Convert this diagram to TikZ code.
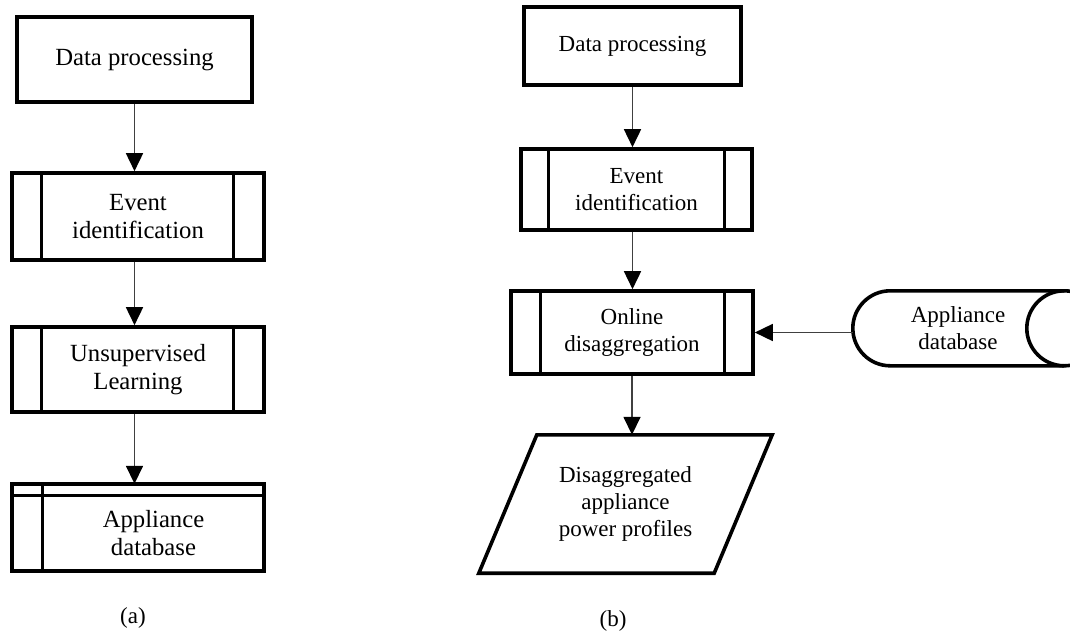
\documentclass[tikz,border=0pt]{standalone}
\usepackage{fontspec}
\setmainfont{Liberation Serif}
\usetikzlibrary{arrows.meta,positioning}

\begin{document}
\begin{tikzpicture}
[
	              x = 1pt,
	              y = -1pt,
	     arr/.style = { draw=black!75, line width=1.6pt, -{Triangle[width=17pt,length=18pt,color=black]} },
	     box/.style = { draw=black, line width=3.6pt },
	     blk/.style = { box, rectangle, align=center, inner sep=0pt },
	   inner/.style = { draw=black, line width=2.8pt },
	    bigA/.style = { font=\fontsize{24.7}{28}\selectfont },
	    bigB/.style = { font=\fontsize{23}{27}\selectfont },
	 caption/.style = { font=\fontsize{23}{27}\selectfont }
]
	\useasboundingbox (0,0) rectangle (1070,632);
	\clip (0,0) rectangle (1070,632);

	\node (dpA) at (134.5,59.5)  [blk, bigA, minimum width=235pt, minimum height=85pt] {Data processing};
	\node (evA) at (138,216.5)   [blk, bigA, minimum width=252pt, minimum height=87pt] {Event\\identification};
	\draw [inner] ([xshift=31pt]evA.north west) -- ([xshift=31pt]evA.south west);
	\draw [inner] ([xshift=-32pt]evA.north east) -- ([xshift=-32pt]evA.south east);

	\node (ulA) at (138,369.5)   [blk, bigA, minimum width=252pt, minimum height=85pt] {Unsupervised\\Learning};
	\draw [inner] ([xshift=31pt]ulA.north west) -- ([xshift=31pt]ulA.south west);
	\draw [inner] ([xshift=-32pt]ulA.north east) -- ([xshift=-32pt]ulA.south east);

	\node (dbA) at (153.5,533.5) [bigA, align=center, inner sep=0pt, minimum width=221pt, minimum height=75pt] {Appliance\\database};
	\coordinate (dbAtop) at ([yshift=12pt]dbA.north);
	\draw [box] ([shift={(-31,-12)}]dbA.north west) rectangle (dbA.south east);
	\draw [inner] ([yshift=12pt]dbA.north west) -- (dbA.south west);
	\draw [inner] ([xshift=-31pt]dbA.north west) -- (dbA.north east);

	\draw [arr] (dpA.south) -- (dpA.south |- evA.north);
	\draw [arr] (evA.south -| dpA.south) -- (dpA.south |- ulA.north);
	\draw [arr] (ulA.south -| dpA.south) -- (dpA.south |- dbAtop);

	\node (capA) at (133,618)    [caption] {(a)};

	\node (dpB) at (632.5,46)    [blk, bigB, minimum width=217pt, minimum height=78pt] {Data processing};
	\node (evB) at (636.5,189.5) [blk, bigB, minimum width=231pt, minimum height=81pt] {Event\\identification};
	\draw [inner] ([xshift=29pt]evB.north west) -- ([xshift=29pt]evB.south west);
	\draw [inner] ([xshift=-29pt]evB.north east) -- ([xshift=-29pt]evB.south east);

	\node (olB) at (632,332.5)   [blk, bigB, minimum width=242pt, minimum height=83pt] {Online\\disaggregation};
	\draw [inner] ([xshift=31pt]olB.north west) -- ([xshift=31pt]olB.south west);
	\draw [inner] ([xshift=-30pt]olB.north east) -- ([xshift=-30pt]olB.south east);

	\node (outB) at (625.5,504)  [bigB, align=center, inner sep=0pt, minimum width=177pt, minimum height=138pt] {Disaggregated\\appliance\\power profiles};
	\draw [box] (outB.north west) -- ([xshift=58pt]outB.north east) -- (outB.south east) -- ([xshift=-58pt]outB.south west) -- cycle;

	\node (dbB) at (958,328.5)   [bigB, align=center, inner sep=0pt, minimum width=210pt, minimum height=75pt] {Appliance\\database};
	\draw [box] ([xshift=37.5pt]dbB.north west) arc [start angle=270, end angle=90, radius=37.5] -- ++(174,0) arc [start angle=90, end angle=-90, radius=37.5] -- cycle;
	\draw [box] ([xshift=211.5pt]dbB.north west) arc [start angle=270, end angle=90, radius=37.5];

	\draw [arr] (dpB.south) -- (dpB.south |- evB.north);
	\draw [arr] (evB.south -| dpB.south) -- (dpB.south |- olB.north);
	\draw [arr] (olB.south) -- (olB.south |- outB.north);
	\draw [arr] (olB.east -| dbB.west) -- (olB.east);

	\node (capB) at (613,621)    [caption] {(b)};

\end{tikzpicture}
\end{document}
